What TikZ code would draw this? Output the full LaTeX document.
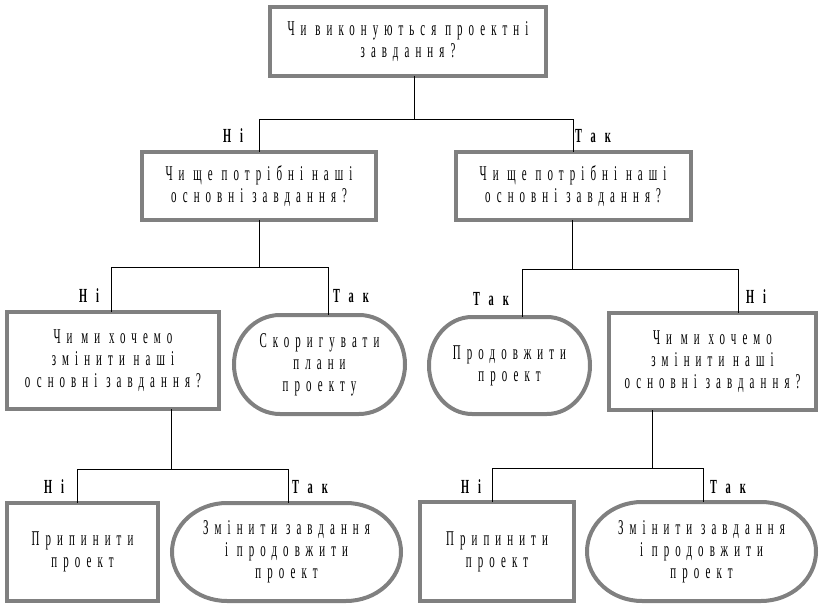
\documentclass[tikz,border=0pt]{standalone}
\usepackage{fontspec}
\setmainfont{Liberation Serif}[FakeStretch=0.52, LetterSpace=29]
\usetikzlibrary{calc}
\definecolor{bordergray}{RGB}{128,128,128}
\newcommand\bodyfnt{\fontsize{21}{22}\selectfont}
\tikzset{
  box/.style={draw=bordergray, line width=4pt, fill=white, outer sep=0pt, inner sep=2pt,
    align=center, font={\bodyfnt}},
  stad/.style={draw=none, outer sep=0pt, inner sep=2pt, align=center,
    font={\bodyfnt}},
  stadline/.style={draw=bordergray, line width=4pt},
  conn/.style={draw=black, line width=1pt},
  lbl/.style={font=\bfseries\fontsize{20}{20}\selectfont\addfontfeatures{LetterSpace=45}, inner sep=0pt}
}
\begin{document}
\begin{tikzpicture}[x=1pt,y=1pt]
\useasboundingbox (0,0) rectangle (823,-607);
% nodes
\node[box, minimum width=276pt, minimum height=69pt] (top) at (408,-41.5) {Чи виконуються проектні\\завдання?};
\node[box, minimum width=234pt, minimum height=68pt] (L1L) at (259,-186) {Чи ще потрібні наші\\основні завдання?};
\node[box, minimum width=235pt, minimum height=68pt] (L1R) at (573,-186) {Чи ще потрібні наші\\основні завдання?};
\node[box, minimum width=212pt, minimum height=97pt] (L2La) at (113,-360.5) {Чи ми хочемо\\змінити наші\\основні завдання?};
\node[stad, minimum width=171pt, minimum height=99pt] (L2Lb) at (319.5,-364.5) {Скоригувати\\плани\\проекту};
\node[stad, minimum width=161pt, minimum height=97pt] (L2Ra) at (509.5,-365.5) {Продовжити\\проект};
\node[box, minimum width=207pt, minimum height=97pt] (L2Rb) at (712.5,-361.5) {Чи ми хочемо\\змінити наші\\основні завдання?};
\node[box, minimum width=151pt, minimum height=98pt] (L3La) at (82.5,-552) {Припинити\\проект};
\node[stad, minimum width=229pt, minimum height=98pt] (L3Lb) at (286.5,-552) {Змінити завдання\\і продовжити\\проект};
\node[box, minimum width=154pt, minimum height=99pt] (L3Ra) at (497,-551.5) {Припинити\\проект};
\node[stad, minimum width=229pt, minimum height=99pt] (L3Rb) at (701.5,-551.5) {Змінити завдання\\і продовжити\\проект};
% stadium outlines
\foreach \n/\rx/\ry in {L2Lb/46/49.5, L2Ra/43/48.5, L3Lb/55/49, L3Rb/55/49.5}{
  \draw[stadline] ($(\n.north west)+(\rx,0)$) -- ($(\n.north east)-(\rx,0)$)
    arc[start angle=90, end angle=-90, x radius=\rx pt, y radius=\ry pt]
    -- ($(\n.south west)+(\rx,0)$)
    arc[start angle=270, end angle=90, x radius=\rx pt, y radius=\ry pt] -- cycle;
}
% junctions
\coordinate (j0) at (414,-120); \coordinate (d0l) at (259,-120); \coordinate (d0r) at (573,-120);
\coordinate (j1) at (259,-268); \coordinate (d1l) at (111,-268); \coordinate (d1r) at (328,-268);
\coordinate (j2) at (572,-270); \coordinate (d2l) at (522,-270); \coordinate (d2r) at (738,-270);
\coordinate (j3) at (171,-469); \coordinate (d3l) at (77,-469);  \coordinate (d3r) at (288,-469);
\coordinate (j4) at (652,-468); \coordinate (d4l) at (492,-468); \coordinate (d4r) at (703,-468);
% connectors
\draw[conn] (j0 |- top.south) -- (j0);
\draw[conn] (d0l |- L1L.north) -- (d0l) -- (d0r) -- (d0r |- L1R.north);
\draw[conn] (j1 |- L1L.south) -- (j1);
\draw[conn] (d1l |- L2La.north) -- (d1l) -- (d1r) -- (d1r |- L2Lb.north);
\draw[conn] (j2 |- L1R.south) -- (j2);
\draw[conn] (d2l |- L2Ra.north) -- (d2l) -- (d2r) -- (d2r |- L2Rb.north);
\draw[conn] (j3 |- L2La.south) -- (j3);
\draw[conn] (d3l |- L3La.north) -- (d3l) -- (d3r) -- (d3r |- L3Lb.north);
\draw[conn] (j4 |- L2Rb.south) -- (j4);
\draw[conn] (d4l |- L3Ra.north) -- (d4l) -- (d4r) -- (d4r |- L3Rb.north);
% labels
\node[lbl] (t0n) at (233,-136) {Ні};
\node[lbl] (t0y) at (593,-136) {Так};
\node[lbl] (t1n) at (89,-296) {Ні};
\node[lbl] (t1y) at (351,-296) {Так};
\node[lbl] (t2y) at (491,-299) {Так};
\node[lbl] (t2n) at (756,-297) {Ні};
\node[lbl] (t3n) at (54,-487) {Ні};
\node[lbl] (t3y) at (310,-487) {Так};
\node[lbl] (t4n) at (471,-487) {Ні};
\node[lbl] (t4y) at (728,-487) {Так};
\end{tikzpicture}
\end{document}
